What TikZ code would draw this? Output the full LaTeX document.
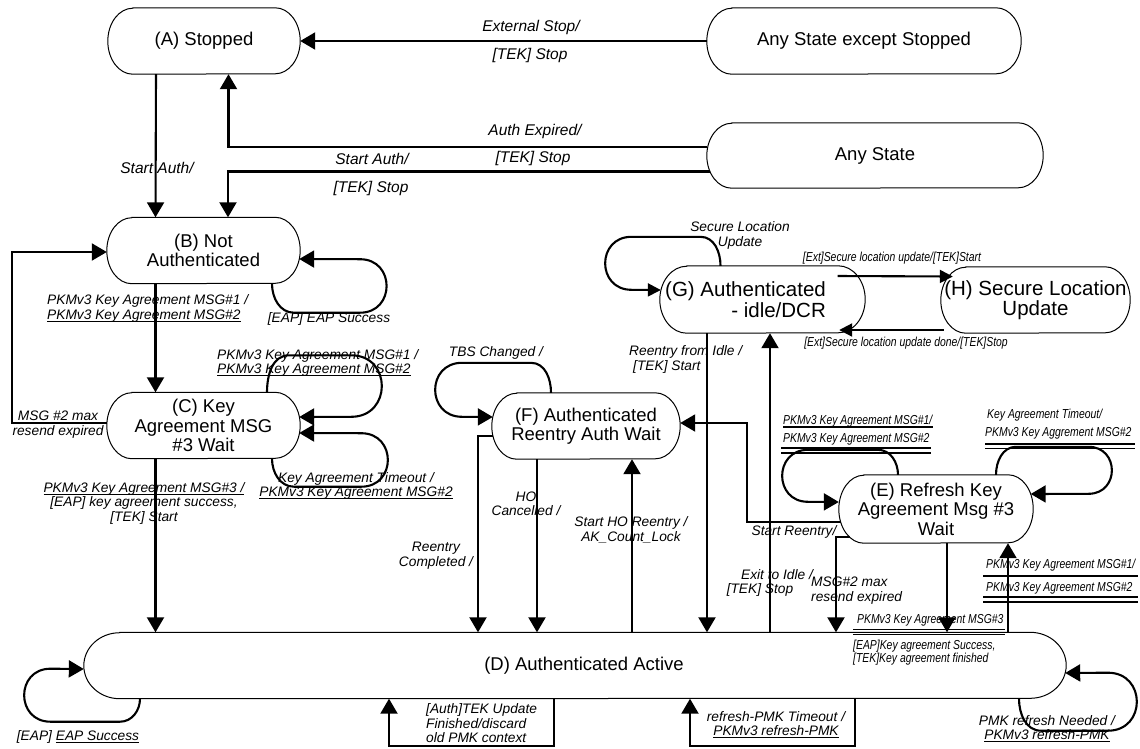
\documentclass[tikz,border=0pt]{standalone}
\usepackage{fontspec}
\setmainfont{Liberation Sans}
\newfontfamily\narrowfam[FakeStretch=0.8]{Liberation Sans}
\usetikzlibrary{arrows.meta,calc}

% underline with a visible rule
\newcommand\undl[1]{\setbox0\hbox{#1}\rlap{\rule[-2.4pt]{\wd0}{0.9pt}}\box0}

% state outline: straight top/bottom, half-ellipse ends
\newcommand\stadium[3]{%
  \draw[statebd] ([xshift=#2]#1.north west) -- ([xshift=-#2]#1.north east)
    arc[start angle=90,end angle=-90,x radius=#2,y radius=#3]
    -- ([xshift=#2]#1.south west)
    arc[start angle=270,end angle=90,x radius=#2,y radius=#3] -- cycle;}

\tikzset{
  state/.style={inner sep=0pt, align=center, font=\fontsize{18.5}{19.5}\selectfont},
  bigstate/.style={state, font=\fontsize{20.5}{20.5}\selectfont},
  statebd/.style={line width=1pt},
  conn/.style={line width=2.1pt, -{Triangle[length=15pt,width=17pt]}},
  conntwo/.style={line width=2.1pt, -{Triangle[length=13pt,width=13pt]}},
  semi/.style={looseness=1.7},
  lab/.style={inner sep=0pt, align=center, font=\fontsize{13.75}{14.5}\selectfont\itshape},
  labtop/.style={lab, font=\fontsize{15.5}{17}\selectfont\itshape},
  nlab/.style={inner sep=0pt, align=left, font=\narrowfam\itshape\fontsize{13}{12.7}\selectfont},
  bar/.style={line width=1.5pt},
}

\begin{document}
\begin{tikzpicture}[x=1pt,y=1pt]
\fill[white] (0,0) rectangle (1140,-748);
\useasboundingbox (0,0) rectangle (1140,-748);

% ---------- states ----------
\node[state, minimum width=192, minimum height=66] (A) at (204,-41) {(A) Stopped};
\node[state, minimum width=314, minimum height=66] (X) at (864,-41) {Any State except Stopped};
\node[state, minimum width=336, minimum height=65] (Y) at (875,-155.5) {Any State};
\node[state, minimum width=193, minimum height=66] (B) at (203.5,-250.5) {(B) Not\\Authenticated};
\node[state, minimum width=193, minimum height=66] (C) at (203.5,-425.5) {(C) Key\\Agreement MSG\\\#3 Wait};
\node[state, minimum width=982, minimum height=66] (D) at (575,-665.5) {\hbox to 18pt{}(D) Authenticated Active};
\node[state, minimum width=188, minimum height=66] (F) at (586,-426) {(F) Authenticated\\Reentry Auth Wait};
\node[bigstate, align=right, minimum width=205, minimum height=67] (G) at (762.5,-299.5) {(G) Authenticated\hbox to 34pt{}\\- idle/DCR\hbox to 34pt{}};
\node[bigstate, minimum width=189, minimum height=66] (H) at (1035.5,-300) {(H) Secure Location\\Update};
\node[state, minimum width=194, minimum height=68] (E) at (936,-509) {(E) Refresh Key\\Agreement Msg \#3\\Wait};

\stadium{A}{25}{33}
\stadium{X}{25}{33}
\stadium{Y}{25}{32.5}
\stadium{B}{25}{33}
\stadium{C}{25}{33}
\stadium{D}{36}{33}
\stadium{F}{25}{33}
\stadium{G}{27}{33.5}
\stadium{H}{25}{33}
\stadium{E}{25}{34}

% ---------- waypoints ----------
\coordinate (ab) at ([xshift=-48]A.south);
\coordinate (bc) at ([xshift=-48]B.south);
\coordinate (cd) at ([xshift=-48]C.south);
\coordinate (fho) at ([xshift=-49]F.south);
\coordinate (fsh) at ([xshift=46]F.south);
\coordinate (gre) at ([xshift=-55.5]G.south);
\coordinate (gex) at ([xshift=7.5]G.south);
\coordinate (em3) at ([xshift=11]E.south);
\coordinate (eup) at ([xshift=72]E.south);

% ---------- transitions ----------
\draw[conn] (X.west) -- (A.east);
\draw[conn] (ab) -- ([xshift=-48]B.north);
\draw[conn] ([yshift=8.5]Y.west) -| ([xshift=24.5]A.south);
\draw[conn] ([xshift=3,yshift=-16]Y.west) -| ([xshift=24.5]B.north);

\draw[conn] (bc) -- ([xshift=-48]C.north);
% self loop on B
\draw[conn] ([xshift=68.5]B.south) to[out=-90,in=180] ++(22,-29) -- ++(66,0)
  to[out=0,in=0,semi] ++(0,53.5) -- ([xshift=-1,yshift=-8.5]B.east);

% self loops on C
\draw[conn] ([xshift=63.5]C.north) to[out=90,in=180] ++(22,37) -- ++(62.25,0)
  to[out=0,in=0,semi] ++(0,-61.5) -- ([xshift=-1,yshift=8.5]C.east);
\draw[conn] ([xshift=68.5]C.south) to[out=-90,in=180] ++(22,-28) -- ++(67.25,0)
  to[out=0,in=0,semi] ++(0,53.5) -- ([xshift=-1,yshift=-7.5]C.east);
\draw[conn] ([yshift=2.5]C.west) -- ++(-95,0) |- ([yshift=-1.5]B.west);
\draw[conn] (cd) -- (cd |- D.north);

% self loop on D (left)
\draw[conn] ([xshift=-435]D.south) to[out=-90,in=0] ++(-20,-23) -- ++(-69.5,0)
  to[out=180,in=180,semi] ++(0,53) -- ([yshift=-3.5]D.west);

% F transitions
\draw[conn] ([xshift=-35]F.north) to[out=90,in=0] ++(-20,30) -- ++(-69,0)
  to[out=180,in=180,semi] ++(0,-54) -- ([xshift=1,yshift=9]F.west);
\draw[conn] ([xshift=1,yshift=-10]F.west) -| ([xshift=-97]D.north);
\draw[conn] (fho) -- (fho |- D.north);
\draw[conn] (fsh |- D.north) -- (fsh);

% G and H transitions
\draw[conn] (gre) -- (gre |- D.north);
\draw[conn] (gex |- D.north) -- (gex);
\draw[conntwo] ([xshift=-42]G.north) to[out=90,in=0] ++(-20,29) -- ++(-69,0)
  to[out=180,in=180,semi] ++(0,-53) -- ([xshift=1,yshift=9.5]G.west);
\draw[conntwo] ([xshift=-27.5,yshift=23.5]G.east) -- ([xshift=12,yshift=23.5]H.west);
\draw[conntwo] ([xshift=3,yshift=-30]H.west) -- ([xshift=-26,yshift=-30.5]G.east);

% E transitions
\draw[conn] ([xshift=-38]E.north) to[out=90,in=0] ++(-20,25) -- ++(-70,0)
  to[out=180,in=180,semi] ++(0,-52) -- ([yshift=7]E.west);
\draw[conn] ([xshift=60]E.north) to[out=90,in=180] ++(20,28) -- ++(72.5,0)
  to[out=0,in=0,semi] ++(0,-47) -- ([xshift=-2.5,yshift=15]E.east);
\draw[conn] ([xshift=2,yshift=-13]E.west) -- ++(-94,0) |- ([yshift=3]F.east);
\draw[conn] ([xshift=11,yshift=-28]E.west) -| ([xshift=261]D.north);
\draw[conn] (em3) -- (em3 |- D.north);
\draw[conn] (eup |- D.north) -- (eup);

% D self transitions below
\draw[conn] ([xshift=-21]D.south) -- ++(0,-47) -| ([xshift=-186]D.south);
\draw[conn] ([xshift=280]D.south) -- ++(0,-47) -| ([xshift=115]D.south);
\draw[conn] ([xshift=444]D.south) to[out=-90,in=180] ++(22,-32) -- ++(67,0)
  to[out=0,in=0,semi] ++(0,58) -- ([xshift=-1,yshift=-7.5]D.east);

% ---------- labels ----------
\node[labtop] (l1) at (531,-27) {External Stop/};
\node[labtop] (l2) at (530,-55) {[TEK] Stop};
\node[labtop] (l3) at (157,-168) {Start Auth/};
\node[labtop] (l4) at (535,-131) {Auth Expired/};
\node[labtop] (l5) at (533,-158) {[TEK] Stop};
\node[labtop] (l6) at (372,-159) {Start Auth/};
\node[labtop] (l7) at (371,-188) {[TEK] Stop};

\node[lab, align=left, anchor=west] (l8) at (47,-308.5) {PKMv3 Key Agreement MSG\#1 /\\\undl{PKMv3 Key Agreement MSG\#2}};
\node[lab] (l9) at (329,-319) {[EAP] EAP Success};
\node[lab, align=left, anchor=west] (l10) at (217,-363) {PKMv3 Key Agreement MSG\#1 /\\\undl{PKMv3 Key Agreement MSG\#2}};
\node[lab] (l11) at (356,-486) {Key Agreement Timeout /\\\undl{PKMv3 Key Agreement MSG\#2}};
\node[lab] (l12) at (58,-424.5) {MSG \#2 max\\resend expired};
\node[lab] (l13) at (144,-503) {\undl{PKMv3 Key Agreement MSG\#3 /}\\{[EAP] key agreement success,}\\{[TEK] Start}};
\node[lab] (l14) at (78,-737) {[EAP] \undl{EAP Success}};
\node[lab] (l15) at (496,-353) {TBS Changed /};
\node[lab] (l16) at (436,-555.5) {Reentry\\Completed /};
\node[lab] (l17) at (526,-504) {HO\\Cancelled /};
\node[lab] (l18) at (631,-530) {Start HO Reentry /\\AK\_Count\_Lock};
\node[lab, align=left, anchor=west] (l19) at (629,-359.5) {Reentry from Idle /\\\hspace*{4pt}[TEK] Start};
\node[lab] (l20) at (777,-575) {Exit to Idle /};
\node[lab] (l21) at (760,-590) {[TEK] Stop};
\node[lab, align=left, anchor=west] (l22) at (811,-590.5) {MSG\#2 max\\resend expired};
\node[lab] (l23) at (794,-532) {Start Reentry/};
\node[lab] (l24) at (776,-724.5) {refresh-PMK Timeout /\\\undl{PKMv3 refresh-PMK}};
\node[lab] (l25) at (1047,-728.5) {PMK refresh Needed /\\\undl{PKMv3 refresh-PMK}};
\node[lab, align=left, anchor=west] (l26) at (426,-723.5) {{[Auth]TEK Update}\\Finished/discard\\old PMK context};
\node[lab] (l27) at (740,-235.5) {Secure Location\\Update};

\node[nlab] (n1) at (892,-258) {[Ext]Secure location update/[TEK]Start};
\node[nlab] (n2) at (906,-343) {[Ext]Secure location update done/[TEK]Stop};
\node[nlab, anchor=west] (n3) at (783,-421) {PKMv3 Key Agreement MSG\#1/};
\node[nlab, anchor=west] (n4) at (783,-439) {PKMv3 Key Agreement MSG\#2};
\node[nlab, anchor=west] (n5) at (987,-415) {Key Agreement Timeout/};
\node[nlab, anchor=west] (n6) at (985,-433) {PKMv3 Key Aggrement MSG\#2};
\node[nlab, anchor=west] (n7) at (986,-565) {PKMv3 Key Agreement MSG\#1/};
\node[nlab, anchor=west] (n8) at (986,-588) {PKMv3 Key Agreement MSG\#2};
\node[nlab, anchor=west] (n9) at (857,-620) {PKMv3 Key Agreement MSG\#3};
\node[nlab, anchor=west] (n10) at (853,-652.5) {{[EAP]Key agreement Success,}\\{[TEK]Key agreement finished}};

% rules under the narrow labels
\draw[bar] (783,-427) -- (933,-427);
\draw[bar] (781,-448) -- (931,-448);
\draw[bar] (781,-453) -- (931,-453);
\draw[bar] (985,-444) -- (1135,-444);
\draw[bar] (985,-448.5) -- (1135,-448.5);
\draw[bar] (983,-576) -- (1138,-576);
\draw[bar] (983,-597) -- (1138,-597);
\draw[bar] (983,-602) -- (1138,-602);
\draw[bar] (853,-629.5) -- (1005,-629.5);
\draw[bar] (853,-634.5) -- (1005,-634.5);
\end{tikzpicture}
\end{document}
